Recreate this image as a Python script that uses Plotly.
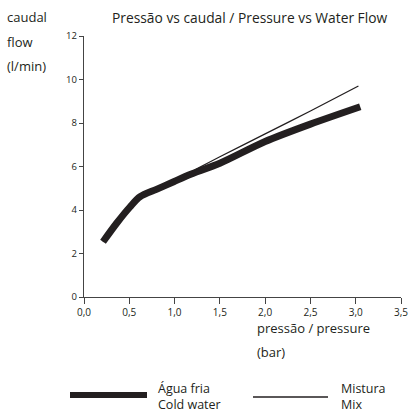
import plotly.graph_objects as go

# Data
pressure_cold = [0.21, 0.36, 0.51, 0.62, 0.80, 0.99, 1.15, 1.5, 2.0, 2.5, 3.05]
flow_cold = [2.54, 3.39, 4.15, 4.61, 4.95, 5.30, 5.60, 6.15, 7.15, 7.95, 8.75]

pressure_mix = [0.21, 0.36, 0.51, 0.62, 0.80, 0.99, 1.25, 1.5, 2.0, 2.5, 3.03]
flow_mix = [2.54, 3.39, 4.15, 4.61, 4.95, 5.30, 5.90, 6.45, 7.50, 8.55, 9.70]

x_ticks = [0, 0.5, 1.0, 1.5, 2.0, 2.5, 3.0, 3.5]
y_ticks = [0, 2, 4, 6, 8, 10, 12]

title = "Pressão vs caudal / Pressure vs Water Flow"
y_title = ["caudal", "flow", "(l/min)"]
x_title = ["pressão / pressure", "(bar)"]
legend_cold = "Água fria<br>Cold water"
legend_mix = "Mistura<br>Mix"

FONT = "Open Sans"
INK = "#231f20"

fig = go.Figure()
fig.add_trace(go.Scatter(x=pressure_cold, y=flow_cold, mode="lines",
                         line=dict(color=INK, width=7, shape="spline", smoothing=0.8),
                         showlegend=False, hoverinfo="skip"))
fig.add_trace(go.Scatter(x=pressure_mix, y=flow_mix, mode="lines",
                         line=dict(color=INK, width=1.3, shape="spline", smoothing=0.8),
                         showlegend=False, hoverinfo="skip"))

W, H = 412, 415
L, R, T, B = 84, 11, 36, 118
pw, ph = W - L - R, H - T - B

def px(x):
    return (x - L) / pw

def py(y):
    return (H - B - y) / ph

fig.update_layout(
    width=W, height=H,
    margin=dict(l=L, r=R, t=T, b=B, autoexpand=False),
    paper_bgcolor="white", plot_bgcolor="white",
    separators=",.",
    font=dict(family=FONT, color=INK),
    xaxis=dict(range=[0, 3.5], tickvals=x_ticks, tickformat=".1f",
               showgrid=False, zeroline=False, showline=True, linecolor="#444",
               linewidth=1.2, ticks="outside", ticklen=6, tickcolor="#444",
               tickfont=dict(size=10, family=FONT, color=INK)),
    yaxis=dict(range=[0, 12], tickvals=y_ticks, tickformat="d",
               showgrid=False, zeroline=False, showline=True, linecolor="#444",
               linewidth=1.2, ticks="outside", ticklen=4, tickcolor="#444",
               tickfont=dict(size=9.5, family=FONT, color=INK)),
)

ann = []
ann.append(dict(text=title, x=px(250), y=py(17), xref="paper", yref="paper",
                xanchor="center", yanchor="middle", showarrow=False,
                font=dict(size=13.8, family=FONT, color=INK)))
for t, yy in zip(y_title, [17, 42, 66]):
    ann.append(dict(text=t, x=px(5), y=py(yy), xref="paper", yref="paper",
                    xanchor="left", yanchor="middle", showarrow=False,
                    font=dict(size=13, family=FONT, color=INK)))
for t, yy in zip(x_title, [328, 352]):
    ann.append(dict(text=t, x=px(255), y=py(yy), xref="paper", yref="paper",
                    xanchor="left", yanchor="middle", showarrow=False,
                    font=dict(size=13, family=FONT, color=INK)))
for t, xx in [(legend_cold, 157), (legend_mix, 340)]:
    ann.append(dict(text=t, x=px(xx), y=py(414), xref="paper", yref="paper",
                    xanchor="left", yanchor="bottom", showarrow=False, align="left",
                    borderpad=0, font=dict(size=12.5, family=FONT, color=INK)))
fig.update_layout(annotations=ann)

fig.add_shape(type="line", xref="paper", yref="paper",
              x0=px(70), x1=px(147), y0=py(395), y1=py(395),
              line=dict(color=INK, width=6))
fig.add_shape(type="line", xref="paper", yref="paper",
              x0=px(253), x1=px(328), y0=py(397), y1=py(397),
              line=dict(color=INK, width=1.3))

fig.write_html("out.html", config={"displayModeBar": False, "staticPlot": True},
               post_script="document.body.style.margin='0';document.body.style.overflow='hidden';")
